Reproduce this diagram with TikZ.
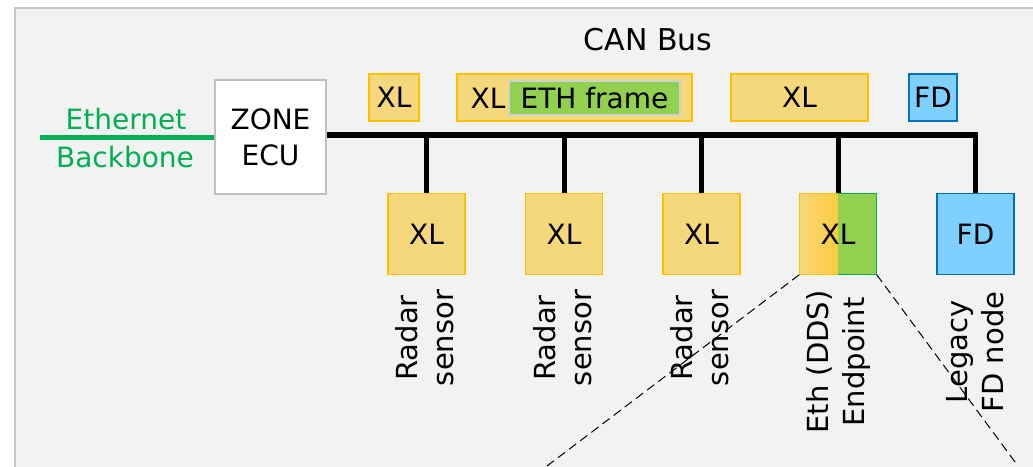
\documentclass[tikz,border=0pt]{standalone}
\usepackage{fontspec}
\setmainfont{DejaVu Sans}
\usetikzlibrary{positioning}
\definecolor{xlfill}{HTML}{F6D87C}
\definecolor{xlline}{HTML}{FFC000}
\definecolor{fdfill}{HTML}{80D0FF}
\definecolor{fdline}{HTML}{0070C0}
\definecolor{ethfill}{HTML}{92D050}
\definecolor{ethline}{HTML}{00B050}
\definecolor{panel}{HTML}{F2F2F2}
\definecolor{panelline}{HTML}{C6C6C6}
\begin{document}
\begin{tikzpicture}[x=1pt,y=-1pt,
  every node/.style={font=\fontsize{28}{36}\selectfont,inner sep=0pt},
  xlbox/.style={draw=xlline,fill=xlfill,line width=1.5pt,minimum width=77pt,minimum height=81pt},
  fdbox/.style={xlbox,draw=fdline,fill=fdfill},
  xlframe/.style={draw=xlline,fill=xlfill,line width=1.5pt,minimum height=47pt},
  fdframe/.style={xlframe,draw=fdline,fill=fdfill},
  bus/.style={line width=5.5pt},
  drop/.style={line width=5pt},
  lbl/.style={rotate=90,align=center,font=\fontsize{29}{36}\selectfont}]%
\useasboundingbox (0,0) rectangle (1033,466);%
\clip (0,0) rectangle (1033,466);%
% panel
\fill[panel,draw=panelline,line width=1.7pt] (15,8) rectangle (1050,490);%
\node[font=\fontsize{30}{36}\selectfont] (can) at (648,40) {CAN Bus};%
% zone ecu and backbone
\node[draw=black!25,fill=white,line width=1.5pt,minimum width=111pt,minimum height=114pt,align=center] (zone) at (270.5,137) {ZONE\\ECU};%
\coordinate (ebb) at (40,137);%
\draw[ethline,line width=5pt] (ebb) -- (zone.west);%
\node[text=ethline] (ethtxt) at (126,119) {Ethernet};%
\node[text=ethline] (bbtxt) at (125,157) {Backbone};%
% frames on the bus
\node[xlframe,minimum width=50pt] (fr1) at (394,97.5) {XL};%
\node[xlframe,minimum width=235pt] (fr2) at (574.5,97.5) {};%
\node (fr2xl) at (488,98) {XL};%
\node[fill=ethfill,draw=black!18,line width=1.5pt,minimum width=171pt,minimum height=34pt] (ethfr) at (594.5,98) {ETH frame};%
\node[xlframe,minimum width=137pt] (fr3) at (799.5,97.5) {XL};%
\node[fdframe,minimum width=48pt] (fr4) at (933,97.5) {FD};%
% nodes
\foreach \i/\x in {1/426.5,2/564,3/701.5}
  \node[xlbox] (xl\i) at (\x,234) {XL};%
\node[minimum width=77pt,minimum height=81pt,path picture={%
  \shade[left color=xlfill,right color=xlline] (path picture bounding box.south west) rectangle (path picture bounding box.north);%
  \fill[ethfill] (path picture bounding box.south) rectangle (path picture bounding box.north east);}] (ep) at (838,234) {XL};%
\draw[xlline,line width=1.5pt] (ep.north) -| (ep.south west) -- (ep.south);%
\draw[ethline,line width=1.5pt] (ep.north) -| (ep.south east) -- (ep.south);%
\node[fdbox] (fd) at (975.5,234) {FD};%
% bus
\coordinate (busl) at ([yshift=2pt]zone.east);%
\draw[bus] (busl) -| (fd.north);%
\foreach \n in {xl1,xl2,xl3,ep}
  \draw[drop] (\n.north) -- (\n.north |- busl);%
% labels
\node[lbl] (lab1) at (425,338) {Radar\\sensor};%
\node[lbl] (lab2) at (562.5,338) {Radar\\sensor};%
\node[lbl] (lab3) at (700,338) {Radar\\sensor};%
\node[lbl] (lab4) at (838,362) {Eth (DDS)\\Endpoint};%
\node[lbl] (lab5) at (975.5,352) {Legacy\\FD node};%
% zoom lines
\coordinate (zl) at (547,466);%
\coordinate (zr) at (1018,466);%
\draw[dash pattern=on 9pt off 5pt,line width=1pt] (ep.south west) -- (zl);%
\draw[dash pattern=on 9pt off 5pt,line width=1pt] (ep.south east) -- (zr);%
\end{tikzpicture}
\end{document}
